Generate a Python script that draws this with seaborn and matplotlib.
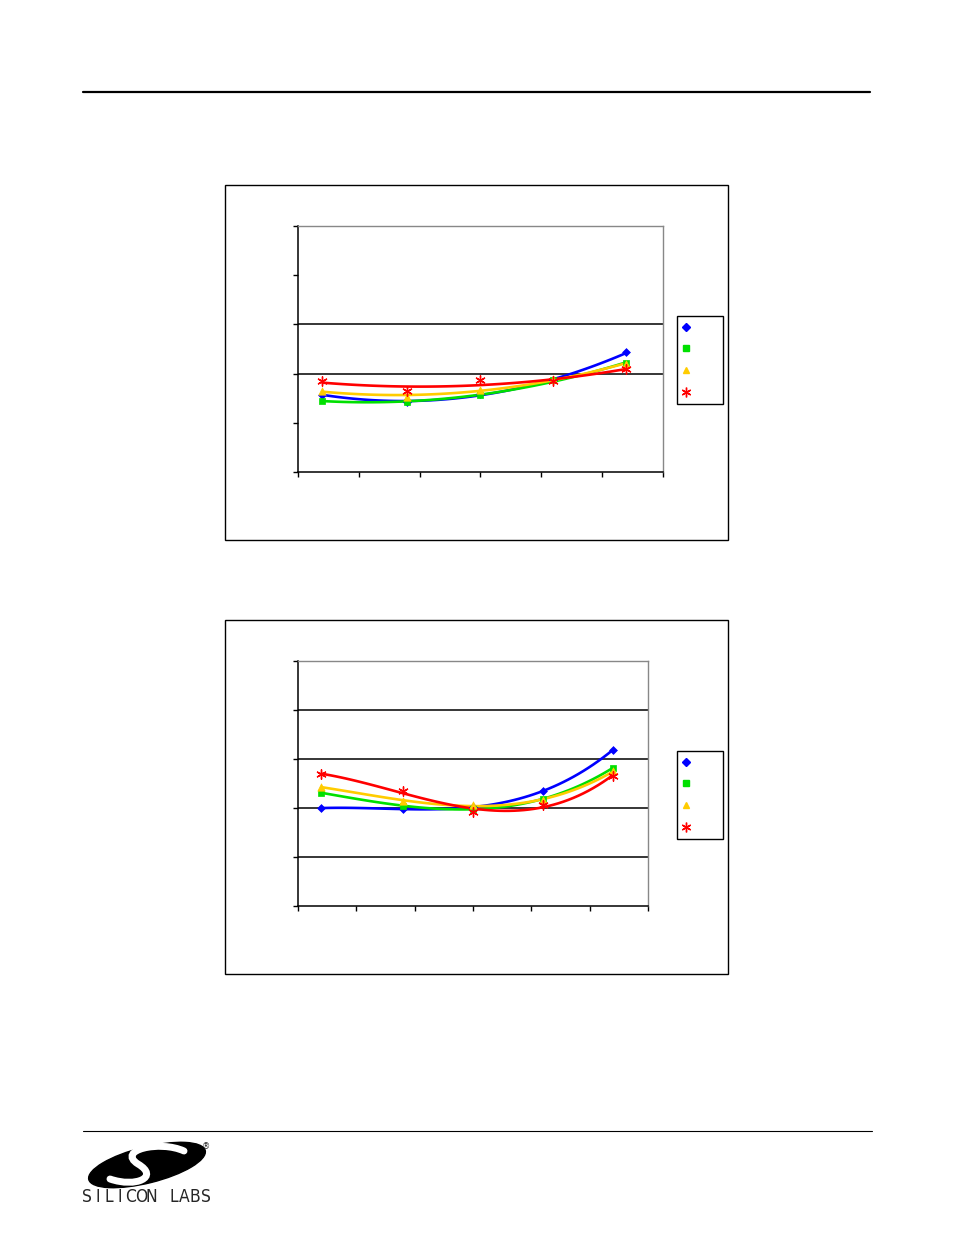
import numpy as np
import pandas as pd
import matplotlib
matplotlib.use("Agg")
import matplotlib.pyplot as plt
import seaborn as sns
from matplotlib.lines import Line2D
from matplotlib.patches import Rectangle, Ellipse, PathPatch
from matplotlib.path import Path

W, H = 954, 1235

# measurement positions (shared by both charts)
x_points = [-50, -15, 15, 45, 75]
series = ["s1", "s2", "s3", "s4"]

# upper chart
top_s1 = [-4.3, -5.7, -4.1, -1.4, 4.3]
top_s2 = [-5.5, -5.8, -4.3, -1.4, 2.2]
top_s3 = [-3.5, -4.8, -3.3, -1.1, 2.0]
top_s4 = [-1.6, -3.5, -1.3, -1.6, 1.0]

# lower chart
bot_s1 = [0.0, -0.3, 0.3, 3.4, 11.9]
bot_s2 = [3.1, 0.5, -0.3, 1.9, 8.2]
bot_s3 = [4.3, 1.4, 0.7, 1.6, 7.5]
bot_s4 = [6.9, 3.5, -0.9, 0.7, 6.6]

colors = {"s1": "#0000FF", "s2": "#00E000", "s3": "#FFCC00", "s4": "#FF0000"}
markers = {"s1": "D", "s2": "s", "s3": "^", "s4": (6, 2, 0)}
sizes = {"s1": 16, "s2": 22, "s3": 28, "s4": 45}


def fig_rect(x0, y0, x1, y1):
    """pixel box (top-left origin) -> figure fraction rect"""
    return [x0 / W, 1 - y1 / H, (x1 - x0) / W, (y1 - y0) / H]


def draw_chart(fig, box, plot_box, legend_xy, values, degree, grid_vals):
    # outer frame
    fig.add_artist(Rectangle((box[0] / W, 1 - box[3] / H), (box[2] - box[0]) / W,
                             (box[3] - box[1]) / H, transform=fig.transFigure,
                             fill=False, edgecolor="black", lw=1))
    ax = fig.add_axes(fig_rect(*plot_box))

    df = pd.DataFrame({
        "x": np.tile(x_points, len(series)),
        "y": np.concatenate(values),
        "series": np.repeat(series, len(x_points)),
    })

    # polynomial trendlines through each series
    xs = np.linspace(min(x_points), max(x_points), 60)
    fits = []
    for name, g in df.groupby("series"):
        coef = np.polyfit(g["x"], g["y"], degree)
        fits.append(pd.DataFrame({"x": xs, "y": np.polyval(coef, xs), "series": name}))
    fit_df = pd.concat(fits)
    sns.lineplot(data=fit_df, x="x", y="y", hue="series", palette=colors,
                 lw=1.9, legend=False, ax=ax, sort=True)

    # line-art and filled markers can't share one scatterplot call
    for name in series:
        sub = df[df["series"] == name]
        if name == "s4":
            sns.scatterplot(data=sub, x="x", y="y", marker=markers[name], s=sizes[name],
                            color=colors[name], linewidth=1.0, ax=ax, zorder=4)
        else:
            sns.scatterplot(data=sub, x="x", y="y", marker=markers[name], s=sizes[name],
                            color=colors[name], edgecolor=colors[name], linewidth=0.5,
                            ax=ax, zorder=4)

    for gv in grid_vals:
        ax.axhline(gv, color="black", lw=1.1, zorder=1)

    ax.set_xlim(-60, 90)
    ax.set_ylim(-20, 30)
    ax.set_xticks(np.arange(-60, 91, 25))
    ax.set_yticks(np.arange(-20, 31, 10))
    ax.set_xticklabels([])
    ax.set_yticklabels([])
    ax.set_xlabel("")
    ax.set_ylabel("")
    ax.tick_params(direction="out", length=3.5, width=1, color="black",
                   bottom=True, left=True)
    for side in ["left", "bottom"]:
        ax.spines[side].set_color("black")
        ax.spines[side].set_linewidth(1.1)
    for side in ["top", "right"]:
        ax.spines[side].set_visible(True)
        ax.spines[side].set_color("#888888")
        ax.spines[side].set_linewidth(1)

    handles = [Line2D([], [], linestyle="none", marker=markers[n], color=colors[n],
                      markersize=4.5 if n != "s4" else 7, markeredgewidth=1)
               for n in series]
    fig.legend(handles, [""] * 4, loc="upper left",
               bbox_to_anchor=(legend_xy[0] / W, 1 - legend_xy[1] / H),
               frameon=True, fancybox=False, edgecolor="black", framealpha=1,
               fontsize=8, labelspacing=1.05, handlelength=0.5, handletextpad=2.4,
               borderpad=0.6, borderaxespad=0)
    return ax


sns.set_style("white")
plt.rcParams["font.family"] = ["DejaVu Sans"]
fig = plt.figure(figsize=(W / 100, H / 100), dpi=100)

# page rules
fig.add_artist(Line2D([83 / W, 870 / W], [1 - 92 / H, 1 - 92 / H],
                      transform=fig.transFigure, color="black", lw=1.6))
fig.add_artist(Line2D([83 / W, 872 / W], [1 - 1131 / H, 1 - 1131 / H],
                      transform=fig.transFigure, color="black", lw=0.8))

draw_chart(fig, (225, 185, 728, 540), (298, 226, 663, 472), (677, 316),
           [top_s1, top_s2, top_s3, top_s4], 2, [0, 10])
draw_chart(fig, (225, 620, 728, 974), (298, 661, 648, 906), (677, 751),
           [bot_s1, bot_s2, bot_s3, bot_s4], 3, [-10, 0, 10, 20])

# logo
lax = fig.add_axes(fig_rect(80, 1138, 215, 1212))
lax.set_xlim(80, 215)
lax.set_ylim(1212, 1138)
lax.axis("off")
lax.add_patch(Ellipse((147, 1165), 120, 36, angle=-14, color="black"))
s_path = Path([(184, 1151), (160, 1140), (116, 1150), (138, 1164),
               (160, 1177), (136, 1188), (110, 1179)],
              [Path.MOVETO, Path.CURVE4, Path.CURVE4, Path.CURVE4,
               Path.CURVE4, Path.CURVE4, Path.CURVE4])
lax.add_patch(PathPatch(s_path, fill=False, edgecolor="white", lw=5, capstyle="round"))
lax.text(206, 1147, "®", fontsize=6, ha="center", va="center")
for i, ch in enumerate("SILICON LABS"):
    lax.text(87 + i * 10.8, 1197, ch, fontsize=12.5, ha="center", va="center",
             family=["DejaVu Sans"], fontstretch="condensed")

fig.savefig("out.png", dpi=100)
